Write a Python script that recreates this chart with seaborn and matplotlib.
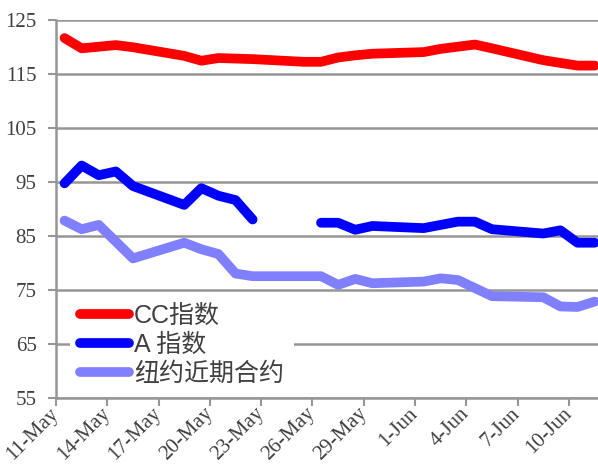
import numpy as np
import pandas as pd
import seaborn as sns
import matplotlib.pyplot as plt
from matplotlib.lines import Line2D
from matplotlib.transforms import ScaledTranslation

# trading days
dates = ["2009-05-11", "2009-05-12", "2009-05-13", "2009-05-14", "2009-05-15",
         "2009-05-18", "2009-05-19", "2009-05-20", "2009-05-21", "2009-05-22",
         "2009-05-25", "2009-05-26", "2009-05-27", "2009-05-28", "2009-05-29",
         "2009-06-01", "2009-06-02", "2009-06-03", "2009-06-04", "2009-06-05",
         "2009-06-08", "2009-06-09", "2009-06-10", "2009-06-11"]

cc_index = [121.6, 119.7, 120.0, 120.3, 119.9,
            118.3, 117.4, 117.9, 117.8, 117.7,
            117.2, 117.2, 118.0, 118.4, 118.7,
            119.0, 119.6, 120.0, 120.4, 119.7,
            117.5, 117.0, 116.5, 116.5]

a_index = [94.7, 98.0, 96.2, 96.9, 94.2,
           90.7, 93.8, 92.4, 91.6, 88.0,
           np.nan, 87.4, 87.4, 86.1, 86.8,
           86.4, 87.0, 87.6, 87.6, 86.2,
           85.4, 86.0, 83.7, 83.7]

ny_nearby = [87.8, 86.2, 87.0, 83.9, 80.8,
             83.7, 82.5, 81.6, 78.0, 77.5,
             77.5, 77.5, 75.9, 77.0, 76.2,
             76.5, 77.1, 76.8, 75.3, 73.8,
             73.6, 71.9, 71.8, 72.8]

series_names = ["CC指数", "A 指数", "纽约近期合约"]
series_colors = ["#FF0000", "#0000FF", "#8080FF"]

tick_dates = ["2009-05-11", "2009-05-14", "2009-05-17", "2009-05-20", "2009-05-23",
              "2009-05-26", "2009-05-29", "2009-06-01", "2009-06-04", "2009-06-07",
              "2009-06-10"]
tick_labels = ["11-May", "14-May", "17-May", "20-May", "23-May", "26-May",
               "29-May", "1-Jun", "4-Jun", "7-Jun", "10-Jun"]
y_ticks = [55, 65, 75, 85, 95, 105, 115, 125]

# long table, gaps split into segments
frames = []
for name, vals in zip(series_names, [cc_index, a_index, ny_nearby]):
    d = pd.DataFrame({"date": pd.to_datetime(dates), "value": vals})
    d["seg"] = d["value"].isna().cumsum()
    d["series"] = name
    frames.append(d.dropna())
df = pd.concat(frames, ignore_index=True)
# points sit in the middle of each day slot
df["x"] = df["date"] + pd.Timedelta(hours=12)

sns.set_style("white")
plt.rcParams["font.family"] = ["Liberation Sans", "Noto Sans CJK SC", "DejaVu Sans"]

fig = plt.figure(figsize=(5.98, 4.74), dpi=100)
ax = fig.add_axes([56 / 598, 1 - 397.7 / 474, (598 - 56) / 598, 378 / 474])

sns.lineplot(data=df, x="x", y="value", hue="series", units="seg", estimator=None,
             hue_order=series_names, palette=series_colors, sort=False,
             lw=7, solid_capstyle="round", solid_joinstyle="round",
             legend=False, ax=ax)

grey = "#969696"
start = pd.Timestamp(dates[0])
ax.set_xlim(start, start + pd.Timedelta(days=31.7))
ax.set_ylim(55, 125)
ax.set_xlabel("")
ax.set_ylabel("")

ax.set_yticks(y_ticks)
ax.set_yticklabels([str(v) for v in y_ticks], fontfamily="Liberation Serif", fontsize=15)
ax.set_xticks(pd.to_datetime(tick_dates))
ax.set_xticklabels(tick_labels, fontfamily="Liberation Serif", fontsize=15,
                   rotation=45, ha="right", va="center", rotation_mode="anchor")
shift = ScaledTranslation(21 / 100, -6 / 100, fig.dpi_scale_trans)
for lbl in ax.get_xticklabels():
    lbl.set_transform(lbl.get_transform() + shift)

ax.tick_params(axis="both", direction="out", length=6, width=1.5, color=grey,
               labelcolor="#404040", bottom=True, left=True)
ax.tick_params(axis="y", pad=8)
ax.yaxis.grid(True, color=grey, lw=1.8)
ax.set_axisbelow(True)
for side in ["top", "right"]:
    ax.spines[side].set_visible(False)
for side in ["left", "bottom"]:
    ax.spines[side].set_color(grey)
    ax.spines[side].set_linewidth(1.8)

handles = [Line2D([], [], color=c, lw=7, solid_capstyle="round") for c in series_colors]
leg = ax.legend(handles, series_names, loc="lower left", bbox_to_anchor=(0.026, 0.004),
                borderaxespad=0, frameon=True, fancybox=False, framealpha=1,
                facecolor="white", edgecolor="none", fontsize=18,
                handlelength=1.95, handletextpad=0.2, labelspacing=0.2,
                borderpad=0.4)
for t in leg.get_texts():
    t.set_color("#404040")

fig.savefig("out.png", dpi=100)
